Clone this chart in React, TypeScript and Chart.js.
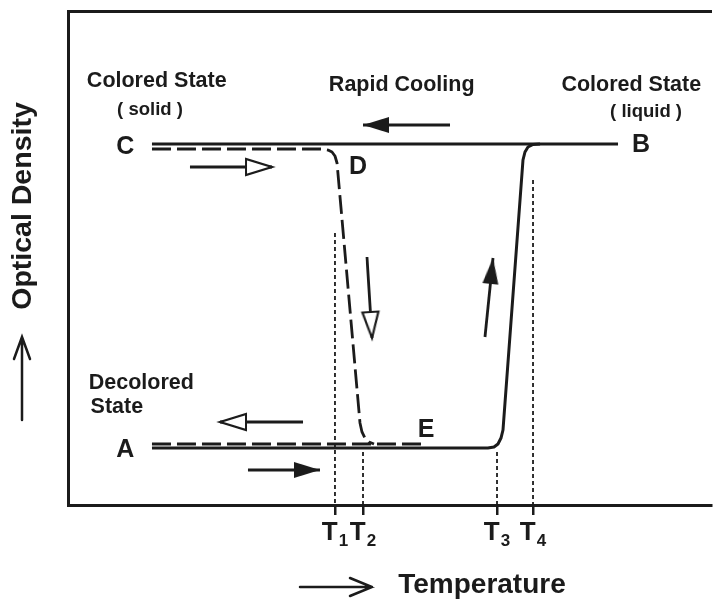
import React, { useEffect, useRef } from 'react';
import { Chart, registerables } from 'chart.js';

Chart.register(...registerables);

// ---- Data (x: temperature units 0-100, y: optical density units 0-100) ----
// Heating path A -> rise between T3 and T4 -> B (solid)
const HEATING_X = [13.06, 65.3, 66.25, 66.87, 67.34, 67.65, 70.76, 71.07, 71.54, 72.32, 73.41];
const HEATING_Y = [11.54, 11.54, 11.74, 12.35, 13.56, 15.18, 69.84, 71.46, 72.47, 72.98, 73.08];
// Colored-state line C - B (solid)
const TOP_X = [13.06, 85.54];
const TOP_Y = [73.08, 73.08];
// Cooling path C -> D -> drop between T1 and T2 (dashed)
const COOL_X = [13.06, 39.5, 40.44, 41.06, 41.52, 41.84, 45.41, 45.72, 46.19, 46.81, 47.59];
const COOL_Y = [72.06, 72.06, 71.86, 71.46, 70.65, 69.23, 16.6, 14.78, 13.56, 12.75, 12.35];
// Decolored dashed line A - E
const LOW_X = [13.06, 55.05];
const LOW_Y = [12.35, 12.35];
// Temperature markers
const T_POS = [41.52, 45.88, 66.72, 72.32];
const T_TOP = [55.06, 10.73, 10.73, 65.79];
const T_NAMES = ['T', 'T', 'T', 'T'];
const T_SUBS = ['1', '2', '3', '4'];
// Arrows (tail -> tip)
const ARROW_TAIL_X = [59.41, 18.97, 36.55, 27.99, 46.5, 64.85];
const ARROW_TAIL_Y = [76.92, 68.42, 16.8, 7.09, 50.2, 34.01];
const ARROW_TIP_X = [45.88, 31.73, 23.64, 39.19, 47.28, 66.1];
const ARROW_TIP_Y = [76.92, 68.42, 16.8, 7.09, 33.81, 50.0];
const ARROW_FILLED = [true, false, false, true, false, true];
// Text annotations
const LABEL_TEXT = ['Colored State', '( solid )', 'Rapid Cooling', 'Colored State', '( liquid )', 'C', 'B', 'D', 'E', 'A', 'Decolored', 'State'];
const LABEL_X = [13.8, 12.75, 51.9, 87.6, 89.9, 8.9, 89.1, 45.1, 55.7, 8.9, 11.4, 7.6];
const LABEL_Y = [85.8, 80.0, 85.0, 85.0, 79.6, 72.5, 72.9, 68.4, 15.2, 11.1, 24.7, 19.8];
const LABEL_KIND = ['title', 'sub', 'title', 'title', 'sub', 'letter', 'letter', 'letter', 'letter', 'letter', 'title', 'title'];
const Y_TITLE = 'Optical Density';
const X_TITLE = 'Temperature';

const INK = '#1b1b1b';
const FONT = '"Liberation Sans", Arial, Helvetica, sans-serif';
const SIZES: Record<string, number> = { title: 21.5, sub: 18.5, letter: 25 };

function makeHead(filled: boolean): HTMLCanvasElement {
  const L = 26;
  const W = 16;
  const c = document.createElement('canvas');
  c.width = W + 4;
  c.height = 2 * L + 4;
  const g = c.getContext('2d')!;
  const cx = c.width / 2;
  const tip = c.height / 2;
  g.beginPath();
  g.moveTo(cx, tip);
  g.lineTo(cx + W / 2, tip + L);
  g.lineTo(cx - W / 2, tip + L);
  g.closePath();
  g.lineJoin = 'miter';
  if (filled) {
    g.fillStyle = INK;
    g.fill();
  } else {
    g.fillStyle = '#ffffff';
    g.fill();
    g.lineWidth = 2.2;
    g.strokeStyle = INK;
    g.stroke();
  }
  return c;
}

function pts(xs: number[], ys: number[]) {
  return xs.map((x, i) => ({ x, y: ys[i] }));
}

const textPlugin = {
  id: 'schematicText',
  afterDatasetsDraw(chart: any) {
    const ctx = chart.ctx as CanvasRenderingContext2D;
    const xs = chart.scales.x;
    const ys = chart.scales.y;
    const area = chart.chartArea;
    ctx.save();
    ctx.fillStyle = INK;
    ctx.strokeStyle = INK;
    ctx.textAlign = 'center';
    ctx.textBaseline = 'middle';
    LABEL_TEXT.forEach((t, i) => {
      ctx.font = `bold ${SIZES[LABEL_KIND[i]]}px ${FONT}`;
      ctx.fillText(t, xs.getPixelForValue(LABEL_X[i]), ys.getPixelForValue(LABEL_Y[i]));
    });
    // tick labels with subscripts
    T_POS.forEach((v, i) => {
      const px = xs.getPixelForValue(v);
      ctx.font = `bold 26px ${FONT}`;
      const wT = ctx.measureText(T_NAMES[i]).width;
      ctx.font = `bold 17px ${FONT}`;
      const wS = ctx.measureText(T_SUBS[i]).width;
      const left = px - (wT + wS + 1) / 2;
      ctx.textAlign = 'left';
      ctx.textBaseline = 'alphabetic';
      ctx.font = `bold 26px ${FONT}`;
      ctx.fillText(T_NAMES[i], left, area.bottom + 35);
      ctx.font = `bold 17px ${FONT}`;
      ctx.fillText(T_SUBS[i], left + wT + 1, area.bottom + 41);
    });
    // axis titles with arrows
    ctx.textAlign = 'center';
    ctx.textBaseline = 'middle';
    ctx.font = `bold 28px ${FONT}`;
    ctx.fillText(X_TITLE, area.left + 414, area.bottom + 80);
    ctx.save();
    ctx.font = `bold 28.5px ${FONT}`;
    ctx.translate(area.left - 45, area.top + 195);
    ctx.rotate(-Math.PI / 2);
    ctx.fillText(Y_TITLE, 0, 0);
    ctx.restore();
    ctx.lineWidth = 2.5;
    ctx.lineCap = 'round';
    // temperature arrow
    const ay = area.bottom + 82;
    ctx.beginPath();
    ctx.moveTo(area.left + 232, ay);
    ctx.lineTo(area.left + 304, ay);
    ctx.moveTo(area.left + 282, ay - 9);
    ctx.lineTo(area.left + 304, ay);
    ctx.lineTo(area.left + 282, ay + 9);
    ctx.stroke();
    // optical density arrow
    const ax = area.left - 46;
    ctx.beginPath();
    ctx.moveTo(ax, area.top + 409);
    ctx.lineTo(ax, area.top + 326);
    ctx.moveTo(ax - 8, area.top + 348);
    ctx.lineTo(ax, area.top + 326);
    ctx.lineTo(ax + 8, area.top + 348);
    ctx.stroke();
    ctx.restore();
  },
};

export default function App() {
  const ref = useRef<HTMLCanvasElement>(null);
  useEffect(() => {
    const canvas = ref.current!;
    const headFilled = makeHead(true);
    const headHollow = makeHead(false);

    const line = (data: any[], dash: number[], width: number) => ({
      data,
      borderColor: INK,
      borderWidth: width,
      borderDash: dash,
      pointRadius: 0,
      tension: 0,
      fill: false,
      borderCapStyle: 'butt',
      borderJoinStyle: 'round',
    });

    const datasets: any[] = [
      line(pts(TOP_X, TOP_Y), [], 3),
      line(pts(HEATING_X, HEATING_Y), [], 3),
      line(pts(COOL_X, COOL_Y), [19, 6], 2.8),
      line(pts(LOW_X, LOW_Y), [19, 6], 2.8),
    ];
    T_POS.forEach((v, i) => {
      datasets.push(line([{ x: v, y: T_TOP[i] }, { x: v, y: 0 }], [4, 3], 1.8));
    });
    ARROW_TAIL_X.forEach((tx, i) => {
      datasets.push({
        data: [
          { x: tx, y: ARROW_TAIL_Y[i] },
          { x: ARROW_TIP_X[i], y: ARROW_TIP_Y[i] },
        ],
        borderColor: INK,
        borderWidth: 2.8,
        tension: 0,
        fill: false,
        pointRadius: [0, 6],
        pointStyle: ARROW_FILLED[i] ? headFilled : headHollow,
        rotation: (c: any) => {
          const sx = c.chart.scales.x;
          const sy = c.chart.scales.y;
          const dx = sx.getPixelForValue(ARROW_TIP_X[i]) - sx.getPixelForValue(tx);
          const dy = sy.getPixelForValue(ARROW_TIP_Y[i]) - sy.getPixelForValue(ARROW_TAIL_Y[i]);
          return (Math.atan2(dx, -dy) * 180) / Math.PI;
        },
      });
    });

    const chart = new Chart(canvas, {
      type: 'line',
      data: { datasets },
      plugins: [textPlugin],
      options: {
        responsive: false,
        animation: false,
        devicePixelRatio: 1,
        events: [],
        layout: { padding: { left: 68, top: 11, right: 2, bottom: 85 }, autoPadding: false },
        plugins: { legend: { display: false }, tooltip: { enabled: false } },
        scales: {
          x: {
            type: 'linear',
            position: 'bottom',
            min: 0,
            max: 100,
            ticks: { display: false },
            afterBuildTicks: (s: any) => {
              s.ticks = T_POS.map((v) => ({ value: v }));
            },
            grid: { display: true, drawOnChartArea: false, drawTicks: true, tickLength: 10, color: INK, lineWidth: 2.5 },
            border: { display: true, color: INK, width: 3 },
          },
          x2: {
            type: 'linear',
            position: 'top',
            min: 0,
            max: 100,
            ticks: { display: false },
            grid: { display: false, drawTicks: false },
            border: { display: true, color: INK, width: 3 },
          },
          y: {
            type: 'linear',
            min: 0,
            max: 100,
            ticks: { display: false },
            grid: { display: false, drawTicks: false },
            border: { display: true, color: INK, width: 3 },
          },
        },
      } as any,
    });
    return () => chart.destroy();
  }, []);

  return (
    <div style={{ position: 'fixed', left: 0, top: 0, width: 713, height: 600, background: '#ffffff' }}>
      <canvas ref={ref} width={713} height={600} style={{ display: 'block', width: 713, height: 600 }} />
    </div>
  );
}
